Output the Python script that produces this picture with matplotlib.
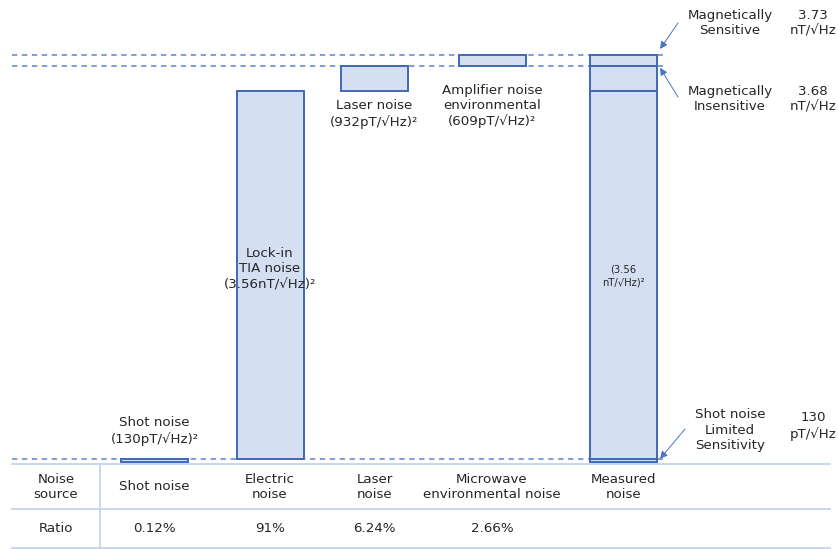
import matplotlib
matplotlib.use("Agg")
import matplotlib.pyplot as plt
import numpy as np

# ---------------- data ----------------
sources = ["Shot noise", "Electric noise", "Laser noise", "Microwave environmental noise"]
# bar segment heights in (nT/sqrt(Hz))^2 as drawn (shot noise drawn slightly enlarged)
segment_heights = [0.11, 12.67, 0.87, 0.37]
bar_labels = ["Shot noise\n(130pT/\u221aHz)\u00b2",
              "Lock-in\nTIA noise\n(3.56nT/\u221aHz)\u00b2",
              "Laser noise\n(932pT/\u221aHz)\u00b2",
              "Amplifier noise\nenvironmental\n(609pT/\u221aHz)\u00b2"]
measured_label = "(3.56\nnT/\u221aHz)\u00b2"
table_header = ["Noise\nsource", "Shot noise", "Electric\nnoise", "Laser\nnoise",
                "Microwave\nenvironmental noise", "Measured\nnoise"]
table_ratio = ["Ratio", "0.12%", "91%", "6.24%", "2.66%", ""]
sens_names = ["Magnetically\nSensitive", "Magnetically\nInsensitive", "Shot noise\nLimited\nSensitivity"]
sens_values = ["3.73\nnT/\u221aHz", "3.68\nnT/\u221aHz", "130\npT/\u221aHz"]

# ---------------- layout ----------------
W, H = 838, 549
x_centers = [154.5, 270, 374.5, 492, 623.5]
bar_w = 67
base_px, top_px = 462, 55
face = "#d5dff2"
edge = "#4068b4"
dash_col = "#5b84cc"
grid_col = "#c5d3ee"
txt_col = "#262626"
fs = 9.6

fig = plt.figure(figsize=(W / 100, H / 100), dpi=100)
total = sum(segment_heights)
k = (base_px - top_px) / total
ax = fig.add_axes([0, 0, 1, 1])
ax.set_xlim(0, W)
ax.set_ylim(-(H - base_px) / k, base_px / k)
ax.axis("off")

ov = fig.add_axes([0, 0, 1, 1], zorder=3)
ov.set_xlim(0, W)
ov.set_ylim(H, 0)
ov.axis("off")
ov.patch.set_alpha(0)

cum = np.concatenate([[0], np.cumsum(segment_heights)])

# waterfall bars
for i, h in enumerate(segment_heights):
    ax.bar(x_centers[i], h, bottom=cum[i], width=bar_w, color=face,
           edgecolor=edge, linewidth=1.4, zorder=2)
# measured stacked bar
for i, h in enumerate(segment_heights):
    ax.bar(x_centers[4], h, bottom=cum[i], width=bar_w, color=face,
           edgecolor=edge, linewidth=1.4, zorder=2)

# dashed reference lines
for lvl in [cum[1], cum[3], cum[4]]:
    ax.plot([12, 667], [lvl, lvl], color=dash_col, lw=1.1, ls=(0, (3.5, 3)), zorder=1)

# bar labels
ov.text(x_centers[0], 431, bar_labels[0], ha="center", va="center", fontsize=fs,
        color=txt_col, linespacing=1.25)
ov.text(x_centers[1], 269, bar_labels[1], ha="center", va="center", fontsize=fs,
        color=txt_col, linespacing=1.25, zorder=4)
ov.text(x_centers[2], 114, bar_labels[2], ha="center", va="center", fontsize=fs,
        color=txt_col, linespacing=1.25)
ov.text(x_centers[3], 106, bar_labels[3], ha="center", va="center", fontsize=fs,
        color=txt_col, linespacing=1.25)
ov.text(x_centers[4], 276, measured_label, ha="center", va="center", fontsize=7.2,
        color=txt_col, linespacing=1.4)

# sensitivity annotations
right_edge = x_centers[4] + bar_w / 2
name_y = [23, 99, 430]
targets = [cum[4], cum[3], cum[1]]
tails = [(678, 23), (678, 97), (685, 429)]
tips_dy = [-6, 2, 0]
for nm, val, y, tgt, tail, dy in zip(sens_names, sens_values, name_y, targets, tails, tips_dy):
    ov.text(730, y, nm, ha="center", va="center", fontsize=fs, color=txt_col, linespacing=1.25)
    ov.text(813, y - (4 if nm.count("\n") == 2 else 0), val, ha="center", va="center",
            fontsize=fs, color=txt_col, linespacing=1.25)
    tip_px = base_px - tgt * k + dy
    ov.annotate("", xy=(right_edge + 3, tip_px), xytext=tail,
                arrowprops=dict(arrowstyle="-|>", color="#4a74c4", lw=0.7,
                                mutation_scale=11, shrinkA=0, shrinkB=0))

# table
for yy in [464, 509, 548]:
    ov.plot([12, 830], [yy, yy], color=grid_col, lw=1.3)
ov.plot([100, 100], [464, 548], color=grid_col, lw=1.3)
col_x = [56] + x_centers
for cx, t in zip(col_x, table_header):
    ov.text(cx, 487, t, ha="center", va="center", fontsize=fs, color=txt_col, linespacing=1.25)
for cx, t in zip(col_x, table_ratio):
    ov.text(cx, 529, t, ha="center", va="center", fontsize=fs, color=txt_col)

fig.savefig("out.png", dpi=100)
